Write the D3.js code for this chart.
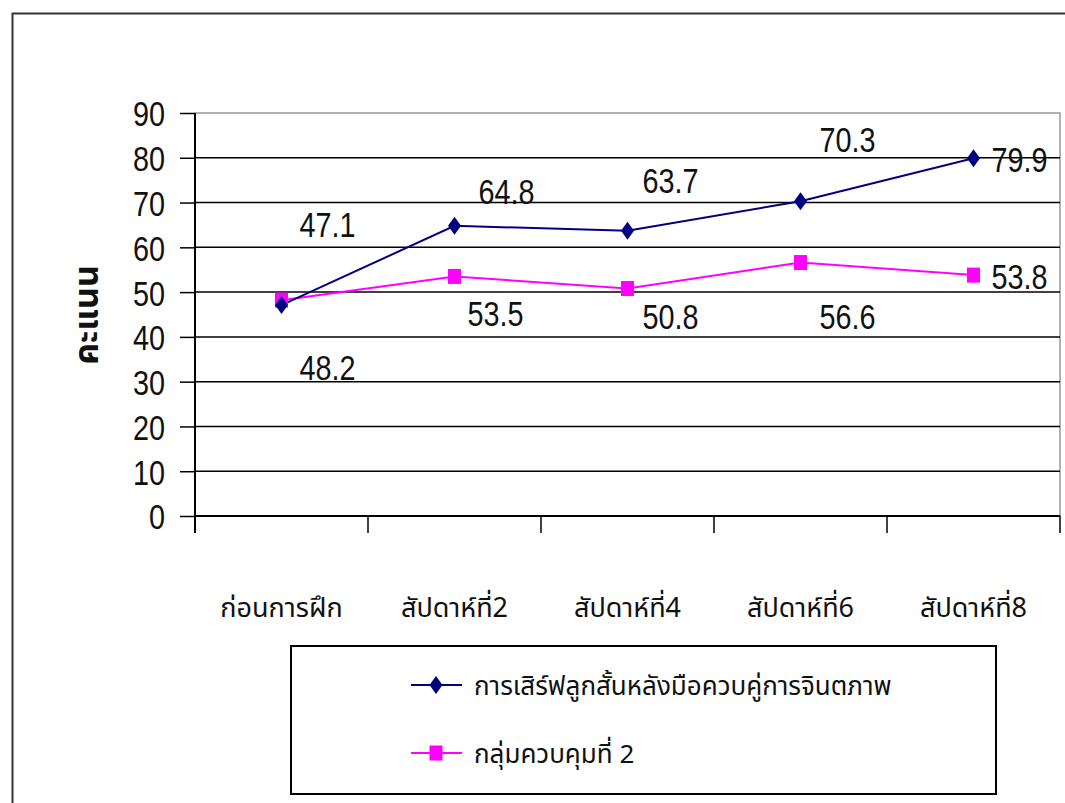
<!DOCTYPE html>
<html>
<head>
<meta charset="utf-8">
<script src="https://cdn.jsdelivr.net/npm/d3@7/dist/d3.min.js"></script>
<style>
  html, body { margin: 0; padding: 0; background: #fff; }
  svg { display: block; }
  .num { font-family: "Liberation Sans", Arial, sans-serif; fill: #111; }
  .thai { font-family: "Noto Sans Thai", "Tahoma", "Noto Sans", sans-serif; fill: #111; }
</style>
</head>
<body>
<svg id="chart" width="1065" height="803"></svg>
<script>
// Score data for each training stage
const categories = ["ก่อนการฝึก", "สัปดาห์ที่2", "สัปดาห์ที่4", "สัปดาห์ที่6", "สัปดาห์ที่8"];
const seriesNames = ["การเสิร์ฟลูกสั้นหลังมือควบคู่การจินตภาพ", "กลุ่มควบคุมที่ 2"];
const imageryScores = [47.1, 64.8, 63.7, 70.3, 79.9];
const controlScores = [48.2, 53.5, 50.8, 56.6, 53.8];
const yTicks = [0, 10, 20, 30, 40, 50, 60, 70, 80, 90];
const yTitle = "คะแนน";

// Layout
const plot = { left: 195, right: 1060, top: 113, bottom: 516 };
const navy = "#000080", magenta = "#ff00ff";
// Hand-placed value label shifts (px from each point)
const labelShiftImagery = [[46, -81], [52, -35], [43, -51], [47, -62], [46, 1]];
const labelShiftControl = [[46, 67], [41, 37], [43, 27], [47, 53], [46, 1]];

const svg = d3.select("#chart");

const x = d3.scaleBand().domain(categories).range([plot.left, plot.right]).padding(0);
const y = d3.scaleLinear().domain([0, 90]).range([plot.bottom, plot.top]);
const cx = d => x(d) + x.bandwidth() / 2;

// Outer chart frame
svg.append("rect")
  .attr("x", 12.5).attr("y", 13.5).attr("width", 1100).attr("height", 840)
  .attr("fill", "none").attr("stroke", "#333").attr("stroke-width", 2);

// Plot area border (grey)
svg.append("rect")
  .attr("x", plot.left).attr("y", plot.top)
  .attr("width", plot.right - plot.left).attr("height", plot.bottom - plot.top)
  .attr("fill", "none").attr("stroke", "#999").attr("stroke-width", 1.5);

// Horizontal gridlines
svg.append("g").selectAll("line")
  .data(yTicks.filter(t => t > 0 && t < 90))
  .join("line")
  .attr("x1", plot.left).attr("x2", plot.right)
  .attr("y1", d => y(d)).attr("y2", d => y(d))
  .attr("stroke", "#000").attr("stroke-width", 1.5);

// Y axis
const yAxis = svg.append("g")
  .attr("transform", `translate(${plot.left},0)`)
  .call(d3.axisLeft(y).tickValues(yTicks).tickSize(15).tickPadding(14).tickFormat(d3.format("d")));
yAxis.select(".domain").remove();
yAxis.selectAll(".tick line").attr("stroke", "#000").attr("stroke-width", 1.5);
yAxis.selectAll(".tick text")
  .attr("class", "num")
  .style("font-size", "36px")
  .attr("transform", "scale(0.8,1)")
  .attr("x", -30 / 0.8)
  .attr("dy", "0.36em");
svg.append("line")
  .attr("x1", plot.left).attr("x2", plot.left)
  .attr("y1", plot.top).attr("y2", plot.bottom + 17)
  .attr("stroke", "#000").attr("stroke-width", 2);

// X axis with ticks between categories
svg.append("line")
  .attr("x1", plot.left).attr("x2", plot.right)
  .attr("y1", plot.bottom).attr("y2", plot.bottom)
  .attr("stroke", "#000").attr("stroke-width", 2);
const boundaries = categories.map(c => x(c)).concat([x.range()[1]]);
svg.append("g").selectAll("line")
  .data(boundaries)
  .join("line")
  .attr("x1", d => d).attr("x2", d => d)
  .attr("y1", plot.bottom).attr("y2", plot.bottom + 17)
  .attr("stroke", "#000").attr("stroke-width", 1.5);

svg.append("g").selectAll("text")
  .data(categories)
  .join("text")
  .attr("class", "thai")
  .attr("x", d => cx(d)).attr("y", 617)
  .attr("text-anchor", "middle")
  .style("font-size", "27px")
  .text(d => d);

// Y axis title
svg.append("text")
  .attr("class", "thai")
  .attr("transform", "translate(98,315) rotate(-90)")
  .attr("text-anchor", "middle")
  .style("font-size", "34px").style("font-weight", "bold")
  .text(yTitle);

// Series lines
const line = d3.line().x((d, i) => cx(categories[i])).y(d => y(d));
svg.append("path").datum(controlScores)
  .attr("d", line).attr("fill", "none").attr("stroke", magenta).attr("stroke-width", 2);
svg.append("path").datum(imageryScores)
  .attr("d", line).attr("fill", "none").attr("stroke", navy).attr("stroke-width", 2);

// Markers
const diamond = (px, py) => `M${px},${py - 9}L${px + 6.5},${py}L${px},${py + 9}L${px - 6.5},${py}Z`;
svg.append("g").selectAll("rect")
  .data(controlScores)
  .join("rect")
  .attr("x", (d, i) => cx(categories[i]) - 6.5).attr("y", d => y(d) - 7.5)
  .attr("width", 13).attr("height", 15)
  .attr("fill", magenta);
svg.append("g").selectAll("path")
  .data(imageryScores)
  .join("path")
  .attr("d", (d, i) => diamond(cx(categories[i]), y(d)))
  .attr("fill", navy);

// Value labels
function valueLabels(values, shifts) {
  svg.append("g").selectAll("text")
    .data(values)
    .join("text")
    .attr("class", "num")
    .attr("text-anchor", "middle")
    .attr("dy", "0.36em")
    .style("font-size", "36px")
    .attr("transform", (d, i) =>
      `translate(${cx(categories[i]) + shifts[i][0]},${y(d) + shifts[i][1]}) scale(0.8,1)`)
    .text(d => d.toFixed(1));
}
valueLabels(imageryScores, labelShiftImagery);
valueLabels(controlScores, labelShiftControl);

// Legend
const legend = svg.append("g");
legend.append("rect")
  .attr("x", 291).attr("y", 646).attr("width", 705).attr("height", 148)
  .attr("fill", "none").attr("stroke", "#000").attr("stroke-width", 2);
const legendRows = [
  { name: seriesNames[0], color: navy, shape: "diamond", y: 685 },
  { name: seriesNames[1], color: magenta, shape: "square", y: 753 }
];
legendRows.forEach(r => {
  legend.append("line")
    .attr("x1", 411).attr("x2", 462).attr("y1", r.y).attr("y2", r.y)
    .attr("stroke", r.color).attr("stroke-width", 2);
  if (r.shape === "diamond") {
    legend.append("path").attr("d", diamond(436, r.y)).attr("fill", r.color);
  } else {
    legend.append("rect").attr("x", 429.5).attr("y", r.y - 7.5)
      .attr("width", 13).attr("height", 15).attr("fill", r.color);
  }
  legend.append("text")
    .attr("class", "thai")
    .attr("x", 474).attr("y", r.y + 10)
    .style("font-size", "26px")
    .text(r.name);
});
</script>
</body>
</html>
